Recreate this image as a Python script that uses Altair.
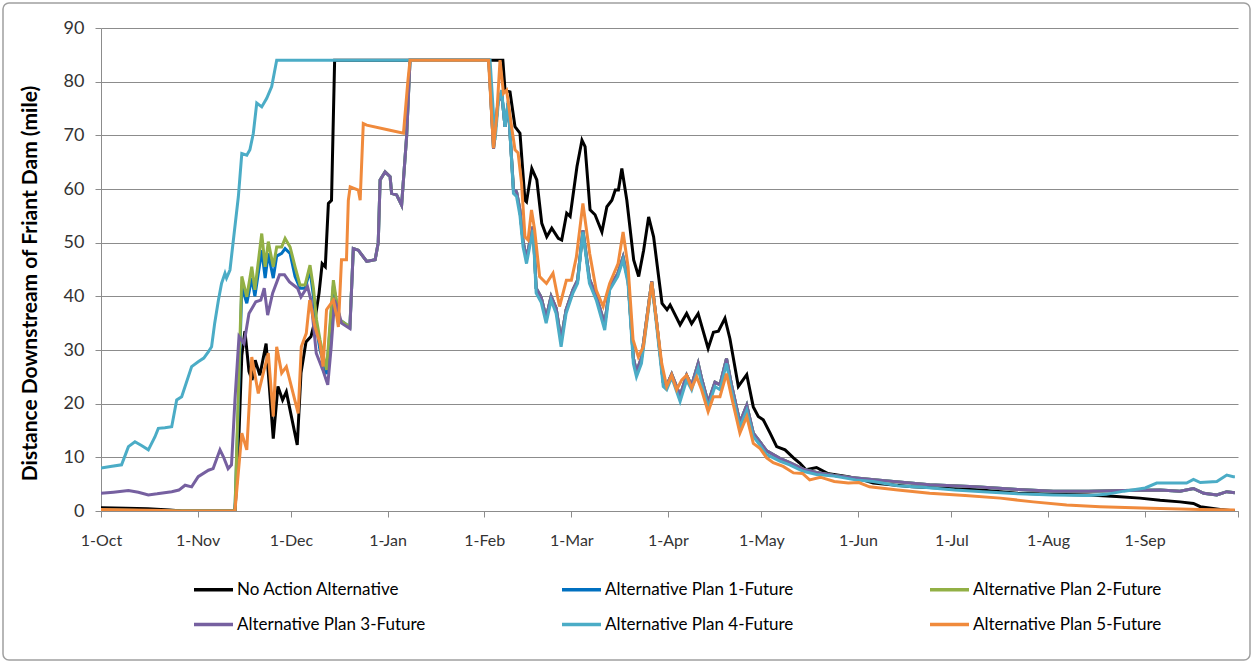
import altair as alt
import pandas as pd

SERIES = [
    "No Action Alternative",
    "Alternative Plan 1-Future",
    "Alternative Plan 2-Future",
    "Alternative Plan 3-Future",
    "Alternative Plan 4-Future",
    "Alternative Plan 5-Future",
]
COLORS = ["#000000", "#0070C0", "#92B045", "#7660A0", "#4BACC6", "#F08A3C"]

# (day since 1-Oct, miles)
NO_ACTION = [
    (0, 0.6), (8, 0.5), (15, 0.4), (22, 0.2), (26, 0), (43, 0), (44, 9.5), (45.2, 29), (46.2, 33.5),
    (47.5, 26), (48.5, 24.4), (49.5, 28.1), (51, 25.3), (53, 31.2), (55.3, 13.5), (56.8, 23.2),
    (58.3, 20.7), (59.5, 22.2), (63, 12.3), (64.2, 25.7), (65.8, 31.5), (67.4, 32.5), (68.5, 35),
    (70, 40.6), (71, 46.1), (72, 45.5), (73, 57.3), (74, 57.9), (75, 84), (129, 84), (129.7, 78.4),
    (131.3, 78.1), (132.9, 71.6), (134.5, 70.4), (136.1, 57.9), (136.6, 57.6), (138.3, 63.8),
    (139.9, 61.7), (141.5, 53.6), (143.1, 51.1), (144.7, 52.7), (146.8, 50.8), (147.9, 50.5),
    (149.5, 55.5), (150.6, 54.9), (152.8, 64.2), (154.4, 69.1), (155.4, 67.9), (157, 56.1),
    (158.6, 55.2), (160.8, 52), (162.4, 56.7), (164, 57.9), (165.1, 59.8), (166.1, 59.8),
    (167.2, 63.8), (168.8, 57.9), (171, 46.8), (172.6, 43.7), (174.2, 48.6), (175.8, 54.8),
    (177.4, 51.1), (179, 43.7), (180.1, 38.7), (181.7, 37.5), (182.7, 38.4), (185.9, 34.7),
    (188, 36.8), (189.6, 34.9), (191.7, 36.8), (194.9, 30.3), (196.6, 33.3), (198.2, 33.5),
    (200.3, 35.9), (201.9, 32.1), (204.6, 23.2), (207.3, 25.4), (209.4, 19.4), (211, 17.6),
    (212.6, 17.0), (214.8, 14.5), (216.9, 12.0), (219.6, 11.4), (222.3, 9.9), (224.4, 8.9),
    (226.3, 7.7), (229.7, 8.1), (233.2, 7.0), (239.9, 6.4), (244.5, 5.8), (247.9, 5.2),
    (260.4, 4.5), (280.7, 4.0), (294.4, 3.3), (305.7, 3.1), (317.1, 3.0), (326, 2.7),
    (333.5, 2.4), (340, 2.0), (346.4, 1.7), (350.7, 1.4), (352.9, 0.8), (359.3, 0.3), (364, 0),
]

PLAN1_HEAD = [
    (0, 0.2), (25, 0), (43, 0), (44, 18), (45.2, 41.8), (46.8, 38.7), (48.4, 43.4), (49.4, 40),
    (51.6, 48.6), (52.7, 43.4), (53.7, 48), (55.3, 43.4), (56.4, 47.5), (58, 48), (59.1, 48.9),
    (60.7, 48), (62.3, 43.7), (63.9, 41.5), (65.5, 41.5), (67.1, 44.9), (68.2, 40), (69.2, 34),
    (70.3, 30), (72.4, 25.5), (74.6, 42), (75.7, 38.5), (76.7, 35.6), (79.9, 34.3),
]

PLAN2_HEAD = [
    (0, 0.2), (25, 0), (43, 0), (44, 20), (45.2, 43.7), (46.8, 39.9), (48.4, 45.5), (49.4, 41.2),
    (51.6, 51.7), (52.7, 45.5), (53.7, 50.2), (55.3, 45.5), (56.4, 49.2), (58, 49.2), (59.1, 50.8),
    (60.7, 49.2), (62.3, 45.5), (63.9, 42.1), (65.5, 42.1), (67.1, 45.8), (68.2, 41.5), (69.2, 35.6),
    (70.3, 31.9), (72.4, 26.3), (74.6, 43), (75.7, 38.7), (76.7, 35.6), (79.9, 34.3),
]

PLAN3_HEAD = [
    (0, 3.3), (4, 3.5), (8.8, 3.8), (12, 3.5), (15.2, 3.0), (18, 3.2), (22.7, 3.6), (25, 3.9),
    (27, 4.8), (29.1, 4.5), (31.2, 6.4), (34.5, 7.6), (36, 7.9), (38.2, 11.4), (39.3, 10.1),
    (40.8, 7.9), (41.9, 8.6), (43, 20.7), (44.3, 32.5), (45.9, 31.2), (47.5, 36.8), (49.7, 39),
    (51.3, 39.3), (52.4, 41.5), (53.5, 36.5), (55.1, 40.6), (57.3, 44), (58.9, 44), (60.5, 42.7),
    (63.1, 41.5), (64.2, 39.9), (66.3, 41.8), (67.4, 39.3), (69.1, 29.4), (71.2, 26.3),
    (72.8, 23.5), (73.9, 30.6), (75, 39.3), (76.1, 37.5), (77.2, 35), (79.9, 34),
]

# Plans 1-3 run together from mid-December on
PLANS_123_TAIL = [
    (81, 48.9), (82.6, 48.6), (85.3, 46.5), (88, 46.8), (89, 50), (89.6, 61.7), (91.2, 63.2),
    (92.8, 62.3), (93.3, 59.2), (94.9, 58.9), (96.5, 57), (98.1, 69.7), (99.2, 84), (124.5, 84),
    (126, 67.5), (127.4, 76), (128.6, 78), (129.7, 71.6), (130.7, 76), (132.4, 60), (133.4, 59.5),
    (134.5, 56), (135.5, 50.2), (136.6, 47), (137.6, 50), (138.7, 53), (139.7, 41.5), (141.3, 39.8),
    (142.9, 36), (144.5, 40), (146.1, 37.8), (147.7, 31.8), (149.3, 37.5), (151.5, 41.2), (153, 43),
    (154.7, 52.3), (156.8, 43.2), (159, 40), (161.7, 34.8), (163.3, 41.8), (165.9, 44.2),
    (167.6, 47.3), (169.2, 43), (170.9, 28.5), (171.9, 26), (173.5, 28.5), (176.8, 42.8),
    (178.4, 35), (180.5, 24), (181.6, 23.4), (183.2, 25.5), (185.9, 21.5), (188, 25.3),
    (189.6, 23.4), (191.7, 27.5), (192.8, 24.7), (194.9, 20.2), (197.1, 24), (198.7, 23.5),
    (200.8, 28.4), (202.4, 23.5), (205.1, 16.5), (207.3, 19.7), (209.4, 14.5), (211.5, 12.9),
    (213.7, 11.2), (217.9, 9.8), (221.1, 9.0), (225.4, 7.8), (229.7, 7.2), (235.4, 6.6),
    (239.9, 6.3), (249, 5.8), (266, 4.9), (280.7, 4.5), (294.4, 4.0), (305.7, 3.7), (317.1, 3.7),
    (328.4, 3.8), (340, 3.9), (346.4, 3.7), (350.7, 4.2), (354, 3.3), (358.2, 3.0), (361.4, 3.6),
    (364, 3.4),
]

PLAN4 = [
    (0, 8), (3, 8.3), (6.6, 8.6), (8.8, 12), (10.9, 12.9), (13, 12.2), (15.2, 11.4), (17.3, 13.8),
    (18.4, 15.4), (20.5, 15.5), (22.7, 15.7), (24.3, 20.7), (25.9, 21.3), (29.1, 26.9), (31.2, 27.8),
    (33, 28.5), (34.5, 29.7), (35.5, 30.6), (36.5, 35), (37.7, 39.3), (38.7, 42.4), (39.8, 44.3),
    (40.3, 43.4), (41.4, 44.9), (42.5, 50.5), (44.1, 58.6), (45.2, 66.6), (46.8, 66.3), (47.8, 67.3),
    (48.9, 70.4), (50, 76), (51.6, 75.3), (53.2, 76.9), (54.8, 79.1), (56.4, 84), (124.9, 84),
    (126.5, 69.1), (127.6, 76.4), (128.6, 78.4), (129.7, 71.6), (130.7, 76.4), (132.4, 59.2),
    (133.4, 58.6), (134.5, 55), (135.5, 49.2), (136.6, 46.1), (137.6, 49.2), (138.7, 52.4),
    (139.7, 40.6), (141.3, 38.9), (142.9, 35), (144.5, 39.3), (146.1, 36.8), (147.7, 30.6),
    (149.3, 36.8), (151.5, 40.6), (153, 42.4), (154.7, 52), (156.8, 42.4), (159, 39.3),
    (161.7, 33.7), (163.3, 41.2), (165.9, 43.7), (167.6, 46.8), (169.2, 42.4), (170.9, 27.5),
    (171.9, 25), (173.5, 27.5), (176.8, 42.4), (178.4, 34.3), (180.5, 23.2), (181.6, 22.6),
    (183.2, 24.9), (185.9, 20.4), (188, 24.4), (189.6, 22.6), (191.7, 26.6), (192.8, 23.8),
    (194.9, 19.4), (197.1, 23.2), (198.7, 22.6), (200.8, 27.5), (202.4, 22.6), (205.1, 15.7),
    (207.3, 18.8), (209.4, 13.9), (211.5, 12.3), (213.7, 10.5), (217.9, 9.3), (221.1, 8.6),
    (225.4, 7.4), (229.7, 6.8), (235.4, 6.5), (242.2, 5.8), (247.9, 5.5), (255.8, 4.7),
    (264.9, 4.4), (274, 3.9), (283.1, 3.6), (294.4, 3.2), (305.7, 3.0), (317.1, 2.9),
    (322.7, 3.1), (328.4, 3.7), (335.2, 4.3), (338.9, 5.2), (344.2, 5.2), (348.5, 5.2),
    (350.7, 5.9), (352.9, 5.3), (358.2, 5.5), (361.4, 6.7), (363.5, 6.4), (364, 6.4),
]

PLAN5 = [
    (0, 0.3), (20, 0.1), (25, 0), (43, 0), (45.2, 14.5), (46.8, 11.4), (48.4, 28.7), (50.5, 21.9),
    (52.1, 25.7), (53.7, 29.4), (55.3, 17.6), (56.4, 30.6), (58, 25.7), (59.5, 26.9), (63.3, 18.2),
    (64.3, 30.6), (65.9, 33.1), (67, 39.3), (68.7, 34.3), (70.3, 31.2), (71.3, 26.9), (72.4, 37.5),
    (74.6, 39.3), (75.7, 36.2), (76.2, 34.3), (77.2, 46.8), (78.8, 46.8), (79.4, 57.9), (80, 60.4),
    (82.6, 59.8), (83.2, 57.9), (84.2, 72.2), (85.3, 71.9), (92.4, 71), (97.1, 70.4), (98.5, 80),
    (99.2, 84), (124.4, 84), (126, 67.6), (127, 73.4), (128.1, 84), (129.2, 77.8), (130.2, 78.4),
    (131.8, 71.6), (132.9, 67.3), (133.9, 66.7), (135, 61.1), (136.1, 51.1), (137.1, 50.5),
    (138.2, 56.1), (139.2, 52.4), (140.8, 43.7), (143, 42.4), (145.1, 44.3), (147.2, 38.1),
    (149.4, 43), (151, 43), (152.6, 47.3), (154.7, 57.3), (156.9, 47.9), (159, 41.1), (161.2, 38.1),
    (163.3, 42.4), (166, 46.1), (167.6, 52), (169.2, 45.5), (170.8, 31.9), (172.5, 28.7),
    (174.1, 30.6), (176.8, 42.7), (178.4, 35), (180, 27.5), (181.6, 23.2), (183.2, 25.3),
    (184.8, 22.6), (186.4, 24.4), (188, 25.3), (189.6, 22.9), (191.2, 25), (192.8, 22.6),
    (194.9, 18.5), (196.6, 21.3), (198.7, 21.3), (200.8, 25.6), (202.4, 21.3), (205.1, 14.5),
    (207.3, 17.6), (209.4, 12.6), (211.5, 11.7), (213.7, 9.9), (215.8, 9.0), (219, 8.3),
    (222.3, 7.1), (225.2, 7.0), (227.5, 5.8), (230.9, 6.3), (235.4, 5.5), (239.9, 5.2),
    (243.3, 5.3), (246.7, 4.5), (255.8, 3.9), (266, 3.3), (277.4, 2.9), (288.7, 2.4),
    (299.3, 1.7), (310, 1.1), (320.7, 0.8), (336.8, 0.5), (352.8, 0.3), (364, 0.2),
]

SERIES_POINTS = {
    SERIES[0]: NO_ACTION,
    SERIES[1]: PLAN1_HEAD + PLANS_123_TAIL,
    SERIES[2]: PLAN2_HEAD + PLANS_123_TAIL,
    SERIES[3]: PLAN3_HEAD + PLANS_123_TAIL,
    SERIES[4]: PLAN4,
    SERIES[5]: PLAN5,
}

BASE = pd.Timestamp("2001-10-01")
rows = []
for name, pts in SERIES_POINTS.items():
    for d, v in pts:
        t = BASE + pd.to_timedelta(d, unit="D")
        rows.append({"series": name, "date": t.strftime("%Y-%m-%dT%H:%M:%S"), "value": v})
df = pd.DataFrame(rows)

FONT = "Lato"
month_ticks = []
for k in range(13):
    mm = 10 + k
    yy = 2001 + (mm - 1) // 12
    month_ticks.append(alt.DateTime(year=yy, month=((mm - 1) % 12) + 1, date=1))

x_enc = alt.X(
    "date:T",
    scale=alt.Scale(domain=[alt.DateTime(year=2001, month=10, date=1),
                            alt.DateTime(year=2002, month=10, date=1)]),
    axis=alt.Axis(
        values=month_ticks, format="%-d-%b", title=None, grid=False,
        labelExpr="(month(datum.value) == 9 && year(datum.value) == 2002) ? '' : datum.label",
        tickSize=6, tickColor="#8c8c8c", domainColor="#8c8c8c", labelFont=FONT,
        labelFontSize=16, labelColor="#333333", labelPadding=15, labelFlush=False,
    ),
)
y_enc = alt.Y(
    "value:Q",
    scale=alt.Scale(domain=[0, 90], nice=False),
    axis=alt.Axis(
        values=list(range(0, 91, 10)), title="Distance Downstream of Friant Dam (mile)",
        titleFont=FONT, titleFontSize=21, titleFontWeight="bold", titleColor="#000000",
        titleX=-71, titleY=255, titleAngle=270, titleAlign="center", titleBaseline="middle",
        grid=True, gridColor="#8c8c8c", gridWidth=1, tickSize=6,
        tickColor="#8c8c8c", domainColor="#8c8c8c", labelFont=FONT, labelFontSize=18,
        labelColor="#333333", labelPadding=11,
    ),
)
color_enc = alt.Color(
    "series:N",
    scale=alt.Scale(domain=SERIES, range=COLORS),
    legend=alt.Legend(
        title=None, orient="none", legendX=91, legendY=540, direction="horizontal", columns=3,
        symbolType="stroke", symbolStrokeWidth=3.5, symbolSize=1521, labelFont=FONT,
        labelFontSize=17, labelColor="#000000", labelOffset=2, columnPadding=129,
        rowPadding=5, gridAlign="all", labelLimit=400,
    ),
)

frame = alt.Chart(pd.DataFrame({"k": [0]})).mark_rect(
    fill="white", fillOpacity=0, stroke="#a0a0a0", strokeWidth=1.5, cornerRadius=6
).encode(x=alt.value(-98), x2=alt.value(1149), y=alt.value(-25), y2=alt.value(632))

base = alt.Chart(df)
layers = [frame]
for name in SERIES:
    layers.append(
        base.transform_filter(alt.datum.series == name)
        .mark_line(strokeWidth=3, clip=True)
        .encode(x=x_enc, y=y_enc, color=color_enc)
    )

chart = alt.layer(*layers).properties(
    width=1137, height=483,
    autosize=alt.AutoSizeParams(type="none"),
    padding={"left": 101, "top": 28, "right": 16, "bottom": 152},
    background="white",
).configure_view(strokeWidth=0)

chart.save("out.html", embed_options={"renderer": "svg", "actions": False})
